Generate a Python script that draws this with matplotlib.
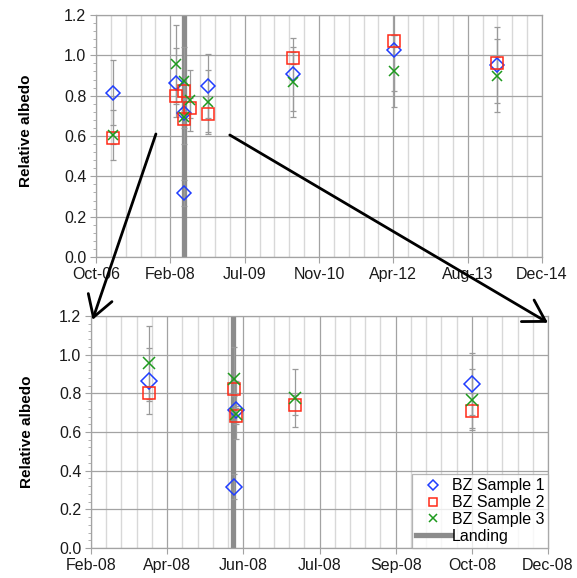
import numpy as np
import pandas as pd
import matplotlib
matplotlib.use('Agg')
import matplotlib.pyplot as plt
import matplotlib.dates as mdates
from matplotlib.ticker import FixedLocator, MultipleLocator
from matplotlib.patches import ConnectionPatch
from matplotlib.lines import Line2D

plt.rcParams['font.family'] = ['Liberation Sans', 'DejaVu Sans']

### data (dates of each measurement, relative albedo, error)
s1_dates = ['2007-01-30', '2008-03-31', '2008-05-26', '2008-05-27', '2008-10-29',
            '2010-05-27', '2012-04-04', '2014-02-28']
s1_vals = [0.815, 0.865, 0.318, 0.712, 0.847, 0.905, 1.026, 0.952]
s1_err = [0.16, 0.17, 0.065, 0.15, 0.16, 0.18, 0.205, 0.19]

s2_dates = ['2007-01-30', '2008-03-31', '2008-05-26', '2008-05-27', '2008-07-05',
            '2008-10-29', '2010-05-27', '2012-04-04', '2014-02-28']
s2_vals = [0.59, 0.80, 0.825, 0.682, 0.739, 0.71, 0.988, 1.072, 0.96]
s2_err = [0.03, 0.04, 0.04, 0.04, 0.05, 0.09, 0.03, 0.03, 0.03]

s3_dates = s2_dates
s3_vals = [0.605, 0.959, 0.872, 0.693, 0.777, 0.768, 0.868, 0.922, 0.899]
s3_err = [0.125, 0.19, 0.17, 0.04, 0.15, 0.16, 0.175, 0.18, 0.18]

landing = '2008-05-25'
labels = ['BZ Sample 1', 'BZ Sample 2', 'BZ Sample 3', 'Landing']


def xl(serial):
    # excel date serial -> matplotlib date number
    return mdates.date2num(pd.to_datetime(serial, unit='D', origin='1899-12-30'))


def dn(d):
    return mdates.date2num(pd.to_datetime(d))


series = [
    (s1_dates, s1_vals, s1_err, 'D', '#1f3dff'),
    (s2_dates, s2_vals, s2_err, 's', '#ff2a17'),
    (s3_dates, s3_vals, s3_err, 'x', '#1e9a1e'),
]

fig = plt.figure(figsize=(5.77, 5.78), dpi=100)
ax1 = fig.add_axes([96 / 577, 1 - 257 / 578, 446 / 577, 242 / 578])
ax2 = fig.add_axes([91 / 577, 1 - 548 / 578, 457 / 577, 232 / 578])


def draw(ax, start, stop, major, minor, big):
    ax.axvline(dn(landing), color='#8c8c8c', lw=3.8, zorder=1.5)
    for dates, vals, err, mk, col in series:
        x = [dn(d) for d in dates]
        ax.errorbar(x, vals, yerr=err, fmt='none', ecolor='#9a9a9a',
                    elinewidth=0.9, capsize=2.3, capthick=0.9, zorder=2)
        if mk == 'D':
            ms = 7.7 if big else 7.0
        elif mk == 's':
            ms = 9.2 if big else 8.4
        else:
            ms = 8.6 if big else 7.8
        ax.plot(x, vals, ls='none', marker=mk, ms=ms, mfc='none', mec=col,
                mew=1.1, zorder=3)
    ax.set_xlim(xl(start), xl(stop))
    ax.set_ylim(0, 1.2)
    ax.xaxis.set_major_locator(FixedLocator([xl(s) for s in range(start, stop + 1, major)]))
    ax.xaxis.set_minor_locator(FixedLocator([xl(s) for s in range(start, stop + 1, minor)]))
    ax.xaxis.set_major_formatter(mdates.DateFormatter('%b-%y'))
    ax.yaxis.set_major_locator(MultipleLocator(0.2))
    ax.yaxis.set_minor_locator(MultipleLocator(0.04))
    ax.yaxis.set_major_formatter(plt.FormatStrFormatter('%.1f'))
    ax.set_axisbelow(True)
    ax.grid(which='major', color='#a3a3a3', lw=0.9)
    ax.grid(which='minor', axis='x', color='#d8d8d8', lw=1.0)
    for sp in ax.spines.values():
        sp.set_color('#a3a3a3')
        sp.set_linewidth(0.9)
    ax.tick_params(which='major', length=4, color='#a3a3a3', labelsize=11.5,
                   labelcolor='#1a1a1a', pad=3)
    ax.tick_params(axis='y', which='minor', length=2.5, color='#a3a3a3')
    ax.tick_params(axis='x', which='minor', length=0)
    ax.set_ylabel('Relative albedo', fontsize=11, fontweight='bold')


draw(ax1, 39000, 42000, 500, 100, False)
draw(ax2, 39500, 39800, 50, 10, True)
ax1.yaxis.set_label_coords(-0.141, 0.52)
ax2.yaxis.set_label_coords(-0.125, 0.5)

handles = [
    Line2D([], [], ls='none', marker='D', ms=5, mfc='none', mec='#1f3dff', mew=1.1),
    Line2D([], [], ls='none', marker='s', ms=6, mfc='none', mec='#ff2a17', mew=1.1),
    Line2D([], [], ls='none', marker='x', ms=6, mfc='none', mec='#1e9a1e', mew=1.1),
    Line2D([], [], color='#8c8c8c', lw=3.8),
]
leg = ax2.legend(handles, labels, loc='lower right', fontsize=11.5, frameon=True,
                 fancybox=False, borderaxespad=0, handlelength=2.2,
                 handletextpad=0.05, labelspacing=0.12, borderpad=0.25)
leg.get_frame().set_edgecolor('#a3a3a3')
leg.get_frame().set_linewidth(0.9)

# zoom arrows from the top chart down to the bottom chart
for xa, ya, xb, yb in [(39403, 0.61, 39501, 1.18), (39900, 0.605, 39800, 1.165)]:
    con = ConnectionPatch(xyA=(xl(xa), ya), coordsA=ax1.transData,
                          xyB=(xl(xb), yb), coordsB=ax2.transData,
                          arrowstyle='->,head_length=0.75,head_width=0.45',
                          mutation_scale=20, lw=2.0, color='k')
    fig.add_artist(con)

fig.savefig('out.png', dpi=100)
